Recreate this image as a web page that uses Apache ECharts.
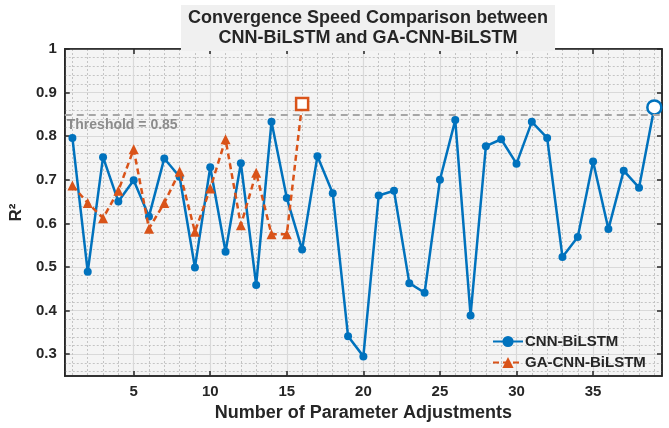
<!DOCTYPE html>
<html>
<head>
<meta charset="utf-8">
<script src="https://cdn.jsdelivr.net/npm/echarts@6/dist/echarts.min.js"></script>
<style>html,body{margin:0;padding:0;background:#fff}#c{width:669px;height:428px}</style>
</head>
<body>
<div id="c"></div>
<script>
// ---- data ----
const cnnX = [1,2,3,4,5,6,7,8,9,10,11,12,13,14,15,16,17,18,19,20,21,22,23,24,25,26,27,28,29,30,31,32,33,34,35,36,37,38,39];
const cnnY = [0.796,0.489,0.752,0.650,0.699,0.616,0.749,0.707,0.499,0.729,0.535,0.738,0.459,0.833,0.658,0.540,0.754,0.669,0.341,0.295,0.664,0.675,0.463,0.441,0.700,0.837,0.389,0.777,0.793,0.737,0.833,0.796,0.523,0.569,0.742,0.587,0.721,0.682,0.866];
const gaX = [1,2,3,4,5,6,7,8,9,10,11,12,13,14,15,16];
const gaY = [0.687,0.647,0.612,0.675,0.770,0.588,0.647,0.719,0.581,0.680,0.793,0.596,0.716,0.575,0.575,0.874];
const xTicks = [5,10,15,20,25,30,35];
const yTicks = [0.3,0.4,0.5,0.6,0.7,0.8,0.9,1];
const xMinor = [1,2,3,4,5,6,7,8,9,10,11,12,13,14,15,16,17,18,19,20,21,22,23,24,25,26,27,28,29,30,31,32,33,34,35,36,37,38,39];
const yMinor = [0.26,0.28,0.3,0.32,0.34,0.36,0.38,0.4,0.42,0.44,0.46,0.48,0.5,0.52,0.54,0.56,0.58,0.6,0.62,0.64,0.66,0.68,0.7,0.72,0.74,0.76,0.78,0.8,0.82,0.84,0.86,0.88,0.9,0.92,0.94,0.96,0.98,1];
const threshold = 0.85;
const titleLines = ['Convergence Speed Comparison between', 'CNN-BiLSTM and GA-CNN-BiLSTM'];
const seriesNames = ['CNN-BiLSTM', 'GA-CNN-BiLSTM'];
const xName = 'Number of Parameter Adjustments';
const yName = 'R²';

// ---- chart ----
const BLUE = '#0072BD', ORANGE = '#D95319', AX = '#262626';
const FONT = 'Liberation Sans';
const XMIN = 0.5, XMAX = 39.5, YMIN = 0.25, YMAX = 1;

function pts(xs, ys, last) {
  return xs.map((x, i) => {
    const d = { value: [x, ys[i]] };
    if (i === xs.length - 1) Object.assign(d, last);
    return d;
  });
}

const chart = echarts.init(document.getElementById('c'), null, { renderer: 'canvas' });
const baseX = { type: 'value', min: XMIN, max: XMAX, gridIndex: 0 };
const baseY = { type: 'value', min: YMIN, max: YMAX, gridIndex: 0 };

chart.setOption({
  animation: false,
  backgroundColor: '#ffffff',
  title: {
    text: titleLines.join('\n'),
    left: 361, top: 5, textAlign: 'center',
    backgroundColor: '#f0f0f0',
    padding: [3, 7, 3, 7],
    textStyle: { fontFamily: FONT, fontWeight: 'bold', fontSize: 18, color: '#262626', lineHeight: 20, align: 'center' }
  },
  grid: {
    left: 58, right: 7, top: 49, bottom: 52,
    show: true, backgroundColor: '#f4f4f4', borderColor: AX, borderWidth: 1.5
  },
  legend: {
    left: 487, top: 329, orient: 'vertical', itemGap: 6,
    itemWidth: 30, itemHeight: 14,
    data: seriesNames,
    textStyle: { fontFamily: FONT, fontWeight: 'bold', fontSize: 15, color: '#262626', padding: [0, 0, 0, -3] }
  },
  xAxis: [
    Object.assign({}, baseX, {
      position: 'bottom',
      axisLine: { show: false }, axisTick: { show: false, customValues: xMinor }, axisLabel: { show: false },
      splitLine: { show: true, lineStyle: { color: '#c4c4c4', type: [2, 2], width: 1 } }
    }),
    Object.assign({}, baseX, {
      position: 'bottom',
      name: xName, nameLocation: 'middle', nameGap: 27,
      nameTextStyle: { fontFamily: FONT, fontWeight: 'bold', fontSize: 18, color: '#262626' },
      axisLine: { show: true, onZero: false, lineStyle: { color: AX, width: 1.5 } },
      axisTick: { show: true, inside: true, length: 5, customValues: xTicks, lineStyle: { color: AX, width: 1.5 } },
      axisLabel: { show: true, customValues: xTicks, margin: 8, fontFamily: FONT, fontWeight: 'bold', fontSize: 15, color: '#262626' },
      splitLine: { show: true, lineStyle: { color: '#d9d9d9', width: 1.2 } }
    }),
    Object.assign({}, baseX, {
      position: 'top',
      axisLine: { show: true, onZero: false, lineStyle: { color: AX, width: 1.5 } },
      axisTick: { show: true, inside: true, length: 5, customValues: xTicks, lineStyle: { color: AX, width: 1.5 } },
      axisLabel: { show: false }, splitLine: { show: false }
    })
  ],
  yAxis: [
    Object.assign({}, baseY, {
      position: 'left',
      axisLine: { show: false }, axisTick: { show: false, customValues: yMinor }, axisLabel: { show: false },
      splitLine: { show: true, lineStyle: { color: '#c4c4c4', type: [2, 2], width: 1 } }
    }),
    Object.assign({}, baseY, {
      position: 'left',
      name: yName, nameLocation: 'middle', nameGap: 33, nameRotate: 90,
      nameTextStyle: { fontFamily: FONT, fontWeight: 'bold', fontSize: 17, color: '#262626' },
      axisLine: { show: true, onZero: false, lineStyle: { color: AX, width: 1.5 } },
      axisTick: { show: true, inside: true, length: 5, customValues: yTicks, lineStyle: { color: AX, width: 1.5 } },
      axisLabel: { show: true, customValues: yTicks, margin: 8, fontFamily: FONT, fontWeight: 'bold', fontSize: 15, color: '#262626' },
      splitLine: { show: true, lineStyle: { color: '#d9d9d9', width: 1.2 } }
    }),
    Object.assign({}, baseY, {
      position: 'right',
      axisLine: { show: true, onZero: false, lineStyle: { color: AX, width: 1.5 } },
      axisTick: { show: true, inside: true, length: 5, customValues: yTicks, lineStyle: { color: AX, width: 1.5 } },
      axisLabel: { show: false }, splitLine: { show: false }
    })
  ],
  series: [
    {
      name: seriesNames[0], type: 'line', xAxisIndex: 1, yAxisIndex: 1, z: 3,
      data: pts(cnnX, cnnY, { symbol: 'circle', symbolSize: 14, itemStyle: { color: '#ffffff', borderColor: BLUE, borderWidth: 2.5 } }),
      symbol: 'circle', symbolSize: 8, showAllSymbol: true,
      lineStyle: { color: BLUE, width: 2.5 },
      itemStyle: { color: BLUE },
      markLine: {
        silent: true, symbol: ['none', 'none'],
        lineStyle: { color: '#a6a6a6', type: [7, 5], width: 2 },
        label: {
          show: true, position: 'insideStartBottom', distance: [2, 4],
          formatter: 'Threshold = ' + threshold,
          fontFamily: FONT, fontWeight: 'bold', fontSize: 14, color: '#8c8c8c'
        },
        data: [{ yAxis: threshold }]
      }
    },
    {
      name: seriesNames[1], type: 'line', xAxisIndex: 1, yAxisIndex: 1, z: 4,
      data: pts(gaX, gaY, { symbol: 'rect', symbolSize: 12, itemStyle: { color: '#ffffff', borderColor: ORANGE, borderWidth: 2.5 } }),
      symbol: 'triangle', symbolSize: 10, showAllSymbol: true,
      lineStyle: { color: ORANGE, width: 2.5, type: [6, 4] },
      itemStyle: { color: ORANGE }
    }
  ]
});
</script>
</body>
</html>
